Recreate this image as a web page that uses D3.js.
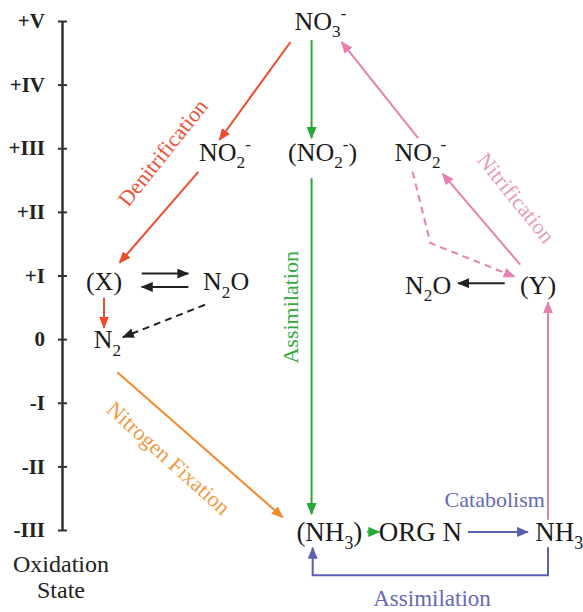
<!DOCTYPE html>
<html>
<head>
<meta charset="utf-8">
<script src="https://cdn.jsdelivr.net/npm/d3@7"></script>
<style>
  body { margin: 0; background: #fff; }
  svg text, svg tspan { font-family: 'Liberation Serif', 'Times New Roman', Times, serif !important; }
</style>
</head>
<body>
<div id="chart"></div>
<script>
// oxidation states on the left axis
const states = [-3, -2, -1, 0, 1, 2, 3, 4, 5];
const stateLabels = ["-III", "-II", "-I", "0", "+I", "+II", "+III", "+IV", "+V"];

// species: label pieces, column (0..4) and oxidation state
const nodeLabels = [
  [["NO", ""], ["3", "sub"], ["-", "sup"]],
  [["NO", ""], ["2", "sub"], ["-", "sup"]],
  [["(NO", ""], ["2", "sub"], ["-", "sup"], [")", ""]],
  [["NO", ""], ["2", "sub"], ["-", "sup"]],
  [["(X)", ""]],
  [["N", ""], ["2", "sub"], ["O", ""]],
  [["N", ""], ["2", "sub"]],
  [["N", ""], ["2", "sub"], ["O", ""]],
  [["(Y)", ""]],
  [["(NH", ""], ["3", "sub"], [")", ""]],
  [["ORG N", ""]],
  [["NH", ""], ["3", "sub"]]
];
const nodeCols   = [1.95, 1.09, 1.97, 2.85, 0.0, 1.10, 0.03, 2.92, 3.91, 2.03, 2.85, 4.10];
const nodeStates = [5.0, 2.94, 2.94, 2.94, 0.91, 0.91, 0.0, 0.85, 0.85, -3.03, -3.03, -3.03];
const nodeSize   = [26, 26, 26, 26, 26, 26, 26, 26, 26, 27, 27, 27];

// arrows: polyline points as [column, state]
const arrowPaths = [
  [[1.68, 4.67], [1.04, 3.13]],                 // NO3 -> NO2 (denitrification)
  [[0.85, 2.63], [0.14, 1.20]],                 // NO2 -> X
  [[0.0, 0.65], [0.0, 0.18]],                   // X -> N2
  [[0.34, 1.03], [0.76, 1.03]],                 // X -> N2O
  [[0.76, 0.82], [0.34, 0.82]],                 // N2O -> X
  [[0.91, 0.54], [0.17, 0.03]],                 // N2O -> N2 (dashed)
  [[1.87, 4.70], [1.87, 3.16]],                 // NO3 -> (NO2)
  [[1.87, 2.53], [1.87, -2.75]],                // (NO2) -> (NH3)
  [[0.12, -0.52], [1.61, -2.80]],               // N2 -> (NH3) fixation
  [[2.37, -3.03], [2.48, -3.03]],               // (NH3) -> ORG N
  [[3.28, -3.03], [3.82, -3.03]],               // ORG N -> NH3
  [[4.0, -3.27], [4.0, -3.71], [1.88, -3.71], [1.88, -3.28]], // NH3 -> (NH3)
  [[4.0, -2.84], [4.0, 0.58]],                  // NH3 -> Y
  [[3.61, 0.88], [3.19, 0.88]],                 // Y -> N2O
  [[3.75, 1.17], [3.05, 2.60]],                 // Y -> NO2
  [[2.83, 3.16], [2.14, 4.67]],                 // NO2 -> NO3
  [[2.78, 2.63], [2.94, 1.51], [3.70, 0.98]]    // NO2 -> Y (dashed)
];
const arrowColor = ["red", "red", "red", "black", "black", "black", "green", "green",
  "orange", "green", "purple", "purple", "pink", "black", "pink", "pink", "pink"];
const arrowDashed = [0, 0, 0, 0, 0, 1, 0, 0, 0, 0, 0, 0, 0, 0, 0, 0, 1];

// process names
const procNames  = ["Denitrification", "Nitrogen Fixation", "Assimilation", "Nitrification", "Catabolism", "Assimilation"];
const procCols   = [0.53, 0.58, 1.685, 3.71, 3.52, 2.955];
const procStates = [2.93, -1.87, 0.50, 2.22, -2.53, -4.07];
const procAngle  = [-51.5, 42, -90, 51, 0, 0];
const procSize   = [22, 22, 22, 22, 22, 23];
const procColor  = ["red", "orange", "green", "pink", "purple", "purple"];

const palette = {
  red: "#ef4b2f", green: "#27a83a", orange: "#f08a2c",
  pink: "#e680ae", purple: "#5c5fae", black: "#222"
};
const textPalette = {
  red: "#ee5238", green: "#35a83f", orange: "#f09a45",
  pink: "#e79bbd", purple: "#6668b3"
};

const SERIF = "'Liberation Serif', 'Times New Roman', Times, serif";
const W = 583, H = 612;
const svg = d3.select("#chart").append("svg")
  .attr("width", W).attr("height", H)
  .attr("font-family", SERIF);

const x = d3.scaleLinear().domain([0, 4]).range([104, 548]);
const y = d3.scaleLinear().domain([-3, 5]).range([530, 21]);

// markers
const defs = svg.append("defs");
Object.keys(palette).forEach(k => {
  defs.append("marker")
    .attr("id", "head-" + k)
    .attr("viewBox", "0 0 12 10")
    .attr("refX", 11).attr("refY", 5)
    .attr("markerWidth", 12).attr("markerHeight", 10)
    .attr("markerUnits", "userSpaceOnUse")
    .attr("orient", "auto")
    .append("path").attr("d", "M0,0 L12,5 L0,10 Z").attr("fill", palette[k]);
});

// axis
const axis = d3.axisLeft(y)
  .tickValues(states)
  .tickFormat((d, i) => stateLabels[i])
  .tickSize(4).tickSizeOuter(0).tickPadding(13);
const gAxis = svg.append("g").attr("transform", "translate(62,0)").call(axis)
  .attr("font-family", SERIF);
gAxis.select(".domain").attr("stroke", "#333").attr("stroke-width", 2.5);
gAxis.selectAll(".tick line").attr("x1", 5).attr("x2", -4).attr("stroke", "#333").attr("stroke-width", 2);
gAxis.selectAll(".tick text")
  .attr("font-family", SERIF)
  .attr("font-weight", "bold").attr("font-size", 21).attr("fill", "#222");

svg.append("text").attr("x", 61).attr("y", 572).attr("text-anchor", "middle")
  .attr("font-family", SERIF)
  .attr("font-size", 24).attr("fill", "#222").text("Oxidation");
svg.append("text").attr("x", 61).attr("y", 598).attr("text-anchor", "middle")
  .attr("font-family", SERIF)
  .attr("font-size", 24).attr("fill", "#222").text("State");

// arrows
const line = d3.line().x(d => x(d[0])).y(d => y(d[1]));
svg.append("g").selectAll("path")
  .data(arrowPaths)
  .join("path")
  .attr("d", line)
  .attr("fill", "none")
  .attr("stroke", (d, i) => palette[arrowColor[i]])
  .attr("stroke-width", 2)
  .attr("stroke-dasharray", (d, i) => arrowDashed[i] ? "7,5" : null)
  .attr("marker-end", (d, i) => "url(#head-" + arrowColor[i] + ")");

// species labels
svg.append("g").selectAll("text")
  .data(nodeLabels)
  .join("text")
  .attr("x", (d, i) => x(nodeCols[i]))
  .attr("y", (d, i) => y(nodeStates[i]) + 0.33 * nodeSize[i])
  .attr("text-anchor", "middle")
  .attr("font-family", SERIF)
  .attr("fill", "#1a1a1a")
  .attr("font-size", (d, i) => nodeSize[i])
  .each(function(parts, i) {
    const F = nodeSize[i];
    let off = 0;
    parts.forEach(([t, k]) => {
      const target = k === "sub" ? 0.3 * F : k === "sup" ? -0.42 * F : 0;
      d3.select(this).append("tspan")
        .attr("dy", target - off)
        .attr("font-size", k ? 0.66 * F : F)
        .text(t);
      off = target;
    });
  });

// process names
svg.append("g").selectAll("text")
  .data(procNames)
  .join("text")
  .attr("transform", (d, i) => "translate(" + x(procCols[i]) + "," + y(procStates[i]) + ") rotate(" + procAngle[i] + ")")
  .attr("text-anchor", "middle")
  .attr("dy", "0.33em")
  .attr("font-family", SERIF)
  .attr("font-size", (d, i) => procSize[i])
  .attr("fill", (d, i) => textPalette[procColor[i]])
  .text(d => d);
</script>
</body>
</html>
